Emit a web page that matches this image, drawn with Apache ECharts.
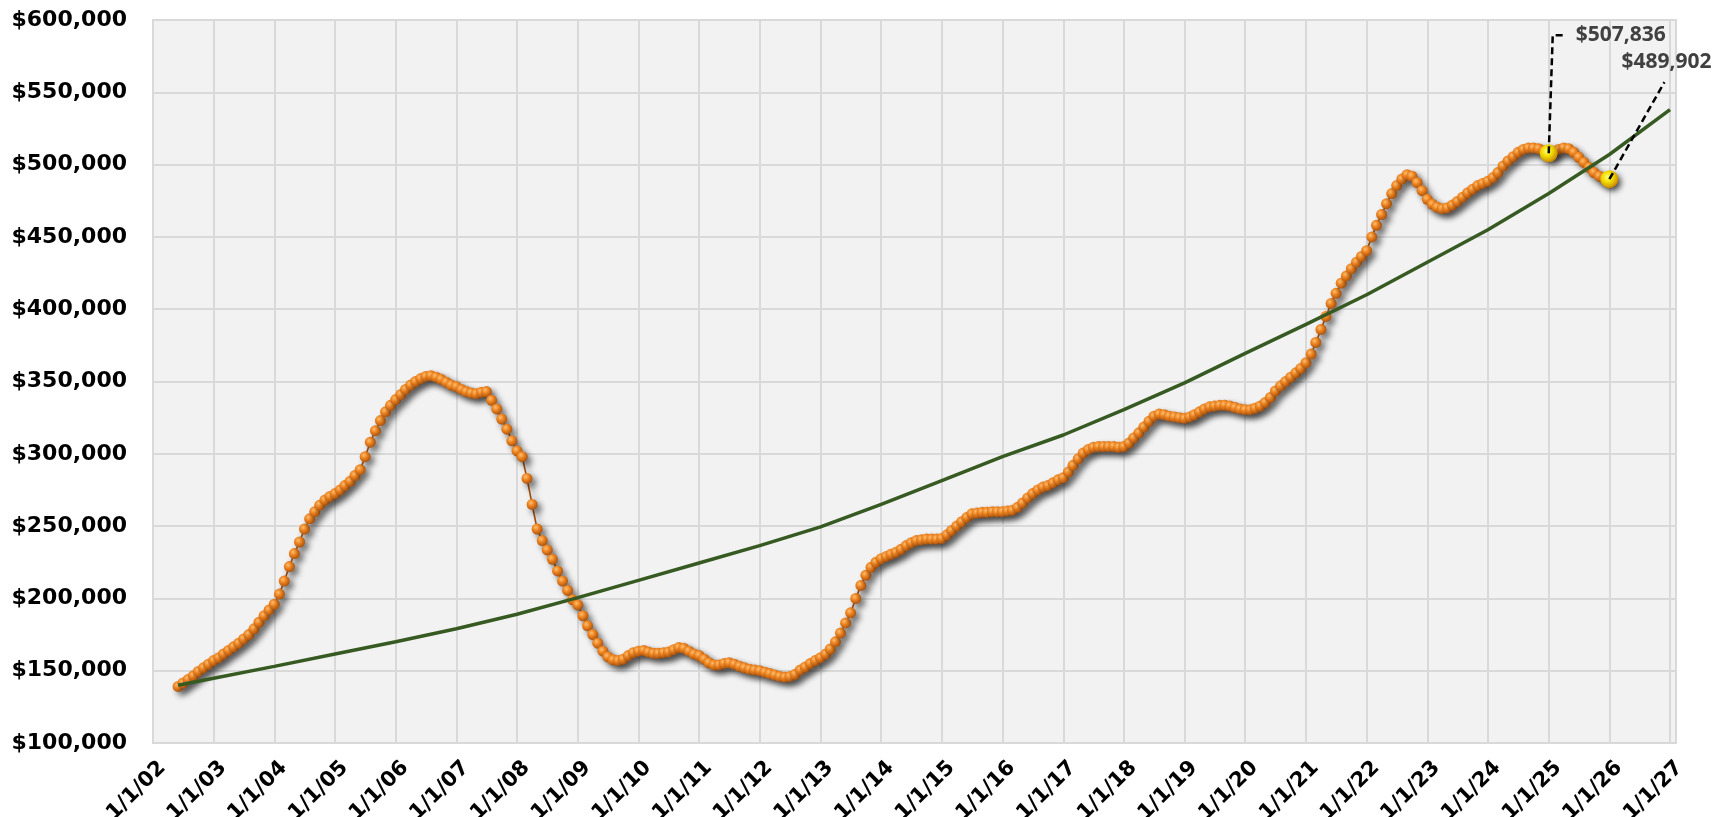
<!DOCTYPE html>
<html><head><meta charset="utf-8">
<script src="https://cdn.jsdelivr.net/npm/echarts@6/dist/echarts.min.js"></script>
<style>html,body{margin:0;padding:0;background:#fff}#c{width:1726px;height:817px}</style>
</head><body><div id="c"></div>
<script>
// ---- data ----
const firstYear = 2002, firstMonth = 6; // monthly series starts June 2002
const medianPrice = [
  139100,141500,144000,146500,149500,152000,154500,
  157000,159000,161500,164000,166500,169000,172000,175000,179000,183500,188000,192000,
  196000,203000,212000,222000,231000,239000,248000,255000,260000,264500,268000,270500,
  272500,275000,278000,281000,285000,289000,298000,308000,316000,323000,329000,333500,
  337500,341000,344500,347500,350000,352000,353500,354000,353000,351500,349500,347500,
  346500,344500,343000,342000,341500,342500,343000,337000,331000,324000,317000,309000,
  302000,298000,283000,265000,248000,240000,233500,227000,219000,212000,205500,199000,
  195500,188000,181000,175000,169000,163500,159500,157500,157000,158000,160500,162500,
  163500,164000,163000,162000,162000,162500,163000,164500,166000,165500,163500,161500,
  160500,158000,155500,154000,154000,155000,155500,154500,153000,152000,151000,150500,
  150000,149000,148000,147000,146000,145500,146000,147500,150500,152500,155000,157000,
  159000,161500,165000,170000,176000,183000,190000,200000,209000,216000,221500,225000,
  227500,229000,230500,232000,234000,236500,238500,240000,240500,241000,241000,241000,
  241500,244000,247000,250000,253000,256000,258500,259000,259500,259500,260000,260000,
  260000,260500,261000,263000,266000,269500,272500,275000,277000,278000,280000,282000,
  283500,287500,292000,296500,300500,303000,304500,305000,305000,305000,305000,304500,
  305000,307500,311000,314500,318500,322500,326000,327500,327000,326000,325500,325000,
  324500,325500,327000,329000,331000,332500,333000,333500,333500,333000,332000,331000,
  330500,330500,331500,333000,335500,339000,343500,347000,350000,353000,356000,359000,
  363000,369000,377000,386000,395000,404000,411000,418000,423000,428000,432500,436500,
  440500,450000,458000,465500,473000,480000,485500,490000,493000,492000,487500,482000,
  476000,472500,470500,469500,470000,472000,474500,477500,480500,483000,485500,487000,
  488500,491000,494500,499000,502500,505500,508500,510500,511500,511500,511000,509500,
  507836,509000,510500,511500,511000,508500,505000,501500,498000,494500,492000,490500,
  489902
];
const trendDates = ['2002-06-01','2003-01-01','2004-01-01','2005-01-01','2006-01-01','2007-01-01',
  '2008-01-01','2009-01-01','2010-01-01','2011-01-01','2012-01-01','2013-01-01','2014-01-01',
  '2015-01-01','2016-01-01','2017-01-01','2018-01-01','2019-01-01','2020-01-01','2021-01-01',
  '2022-01-01','2023-01-01','2024-01-01','2025-01-01','2026-01-01','2027-01-01'];
const trendValues = [140000,144800,153000,161500,170000,179000,189000,200500,212500,224500,236500,
  249500,265000,281500,298000,313000,330500,349000,369500,389500,410000,432500,455000,480000,507000,538000];
const calloutDates = ['2025-01-01','2026-01-01'];
const calloutValues = [507836, 489902];
const calloutLabels = ['$507,836', '$489,902'];
const xMin = '2002-01-01', xMax = '2027-02-06';
const yMin = 100000, yMax = 600000, yStep = 50000;

// ---- build ----
function monthDate(i){
  const m0 = firstMonth - 1 + i;
  const y = firstYear + Math.floor(m0 / 12);
  const m = (m0 % 12) + 1;
  return y + '-' + String(m).padStart(2,'0') + '-01';
}
const orangeData = medianPrice.map((v,i)=>[monthDate(i), v]);
const trendData = trendDates.map((d,i)=>[d, trendValues[i]]);
const calloutData = calloutDates.map((d,i)=>[d, calloutValues[i], i]);

const chart = echarts.init(document.getElementById('c'), null, {renderer:'canvas'});
const YEAR = 365*24*3600*1000;
chart.setOption({
  animation:false,
  backgroundColor:'#ffffff',
  grid:{left:153, right:50, top:20, bottom:74, containLabel:false, outerBoundsMode:'none',
    show:true, backgroundColor:'#f2f2f2', borderColor:'#d9d9d9', borderWidth:2},
  xAxis:{
    type:'time', min:xMin, max:xMax, minInterval:YEAR, maxInterval:YEAR,
    axisLine:{show:true, lineStyle:{color:'#d9d9d9', width:2}},
    axisTick:{show:false},
    splitLine:{show:true, lineStyle:{color:'#d9d9d9', width:2}},
    axisLabel:{
      rotate:45, margin:12, color:'#000', fontFamily:'DejaVu Sans', fontWeight:'bold', fontSize:21,
      verticalAlign:'top', padding:[3,0,0,0],
      showMinLabel:true, showMaxLabel:true, hideOverlap:false,
      formatter:function(v){
        const d = new Date(v);
        if (d.getMonth()!==0 || d.getDate()!==1) return '';
        return (d.getMonth()+1)+'/'+d.getDate()+'/'+String(d.getFullYear()%100).padStart(2,'0');
      }
    }
  },
  yAxis:{
    type:'value', min:yMin, max:yMax, interval:yStep,
    axisLine:{show:false}, axisTick:{show:false},
    splitLine:{show:true, lineStyle:{color:'#d9d9d9', width:2}},
    axisLabel:{margin:26, color:'#000', fontFamily:'DejaVu Sans', fontWeight:'bold', fontSize:22,
      formatter:function(v){ return '$'+v.toLocaleString('en-US'); }}
  },
  series:[
    {
      type:'line', data:orangeData, z:2,
      symbol:'circle', symbolSize:11, showSymbol:true, showAllSymbol:true,
      lineStyle:{color:'#9c4a0a', width:1.6, shadowColor:'rgba(0,0,0,0.5)', shadowBlur:6, shadowOffsetX:4, shadowOffsetY:4},
      itemStyle:{
        color:{type:'radial', x:0.38, y:0.35, r:0.65, colorStops:[
          {offset:0, color:'#ffbf70'},{offset:0.45, color:'#ee8420'},{offset:1, color:'#ad5510'}]},
        shadowColor:'rgba(0,0,0,0.5)', shadowBlur:6, shadowOffsetX:4, shadowOffsetY:4
      },
      emphasis:{disabled:true}
    },
    {
      type:'line', data:trendData, z:3, symbol:'none',
      lineStyle:{color:'#375a22', width:3.5},
      emphasis:{disabled:true}
    },
    {
      type:'custom', data:calloutData, z:5, clip:false,
      renderItem:function(params, api){
        const p = api.coord([api.value(0), api.value(1)]);
        const i = api.value(2);
        const x = p[0], y = p[1];
        let pts, tx, ty;
        if (i === 0){ pts = [[x,y],[x+4,y-118],[x+17,y-118]]; tx = x+27; ty = y-118; }
        else { pts = [[x,y],[x+55,y-97]]; tx = x+12; ty = y-117; }
        return {type:'group', children:[
          {type:'circle', shape:{cx:x, cy:y, r:9}, style:{
            fill:{type:'radial', x:0.4, y:0.38, r:0.65, colorStops:[
              {offset:0, color:'#ffff70'},{offset:0.45, color:'#f2dc00'},{offset:0.8, color:'#d6a400'},{offset:1, color:'#c47a0c'}]},
            shadowColor:'rgba(0,0,0,0.5)', shadowBlur:6, shadowOffsetX:3, shadowOffsetY:3}},
          {type:'polyline', shape:{points:pts}, style:{stroke:'#000', lineWidth:2.5, lineDash:[7,4], fill:null}},
          {type:'text', style:{text:calloutLabels[i], x:tx, y:ty, fill:'#404040',
            font:'bold 21px "Open Sans"', verticalAlign:'middle', align:'left'}}
        ]};
      }
    }
  ]
});
</script></body></html>
